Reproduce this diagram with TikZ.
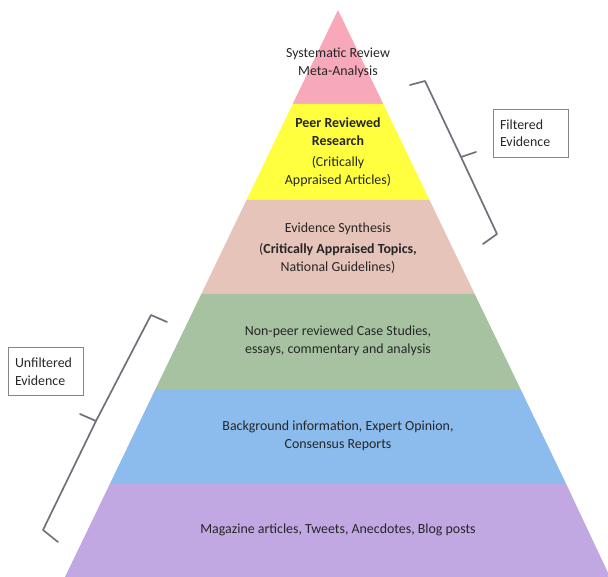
\documentclass[tikz,border=0pt]{standalone}
\usepackage{fontspec}
\setmainfont{Carlito}

\definecolor{TopPink}{RGB}{247,168,185}
\definecolor{PeerYellow}{RGB}{255,255,64}
\definecolor{SynthRose}{RGB}{231,196,186}
\definecolor{CaseGreen}{RGB}{166,194,160}
\definecolor{BackBlue}{RGB}{139,188,237}
\definecolor{MagLilac}{RGB}{193,168,226}
\definecolor{BraceGray}{RGB}{112,112,122}

\begin{document}
\begin{tikzpicture}[x=1pt,y=-1pt]
		\tikzstyle{LevelText} = [align=center, text=black!85, font=\fontsize{13.9}{17.5}\selectfont]
		\tikzstyle{BoxStyle}  = [draw=BraceGray!85, line width=0.9pt, align=left, text width=61pt,
		                         inner xsep=7pt, minimum height=48pt, text=black!85,
		                         font=\fontsize{13.9}{17.5}\selectfont]
		\tikzstyle{BraceStyle} = [draw=BraceGray, line width=1.7pt, line join=round, line cap=round]

		\useasboundingbox (0,0) rectangle (608,577);

		% pyramid levels, top to bottom
		\fill[TopPink]    (338,10)      -- (383.3,104) -- (292.7,104) -- cycle;
		\fill[PeerYellow] (292.7,104)   -- (383.3,104) -- (429.5,200) -- (246.5,200) -- cycle;
		\fill[SynthRose]  (246.5,200)   -- (429.5,200) -- (474.7,294) -- (201.3,294) -- cycle;
		\fill[CaseGreen]  (201.3,294)   -- (474.7,294) -- (520.5,389) -- (155.5,389) -- cycle;
		\fill[BackBlue]   (155.5,389)   -- (520.5,389) -- (566.2,484) -- (109.8,484) -- cycle;
		\fill[MagLilac]   (109.8,484)   -- (566.2,484) -- (610,577)   -- (65,577)    -- cycle;

		\node[LevelText] (Systematic) at (338,63)  {Systematic Review\\Meta-Analysis};
		\node[LevelText] (Peer)       at (338,152) {\textbf{Peer Reviewed}\\\textbf{Research}\\[4pt](Critically\\Appraised Articles)};
		\node[LevelText] (Synthesis)  at (338,248) {Evidence Synthesis\\[4pt](\textbf{Critically Appraised Topics,}\\National Guidelines)};
		\node[LevelText] (CaseStudy)  at (338,341) {Non-peer reviewed Case Studies,\\essays, commentary and analysis};
		\node[LevelText] (Background) at (338,436) {Background information, Expert Opinion,\\Consensus Reports};
		\node[LevelText] (Magazine)   at (338,530) {Magazine articles, Tweets, Anecdotes, Blog posts};

		% labels beside the brackets
		\node[BoxStyle] (Filtered)   at (530.5,133) {Filtered\\Evidence};
		\node[BoxStyle] (Unfiltered) at (45.5,371.5) {Unfiltered\\Evidence};

		\coordinate (FTop)  at (410,85);  \coordinate (FMid) at (461,157);
		\coordinate (FTip)  at (476,152); \coordinate (FEnd) at (483,244);
		\coordinate (UTop)  at (167,322); \coordinate (UMid) at (96,421);
		\coordinate (UTip)  at (80,414);  \coordinate (UEnd) at (58,542);

		\draw[BraceStyle] (FTop) -- (425,81) -- (FMid) -- (FTip) (FMid) -- (497,234) -- (FEnd);
		\draw[BraceStyle] (UTop) -- (151,315) -- (UMid) -- (UTip) (UMid) -- (43,530) -- (UEnd);
	\end{tikzpicture}
\end{document}
